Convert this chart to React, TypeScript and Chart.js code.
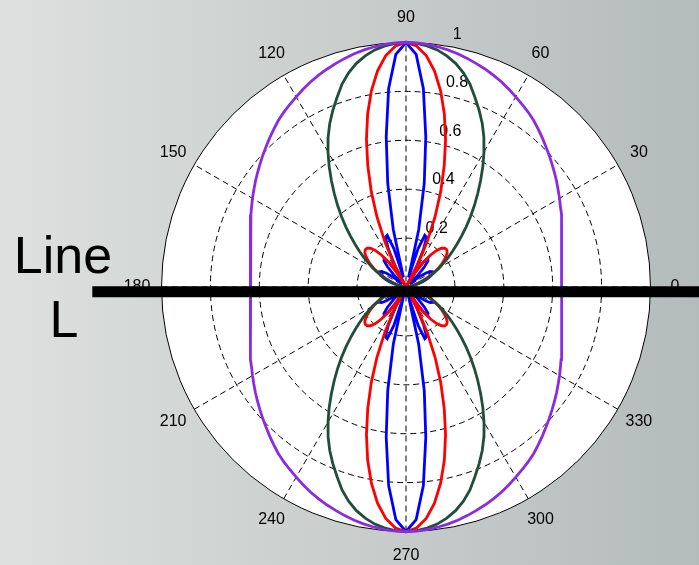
import React, { useEffect, useRef } from 'react';
import { Chart, registerables } from 'chart.js';

Chart.register(...registerables);

// Pattern read in one quadrant (degrees from the 0° axis); the picture is symmetric about both axes.
const angles = [0, 2.5, 5, 7.5, 10, 12.5, 15, 17.5, 20, 22.5, 25, 27.5, 30, 32.5, 35, 37.5, 40, 42.5, 45, 47.5, 50, 52.5, 55, 57.5, 60, 62.5, 65, 67.5, 70, 72.5, 75, 77.5, 80, 82.5, 85, 87.5, 90];
const purpleR = [0.638, 0.638, 0.64, 0.643, 0.647, 0.652, 0.658, 0.666, 0.676, 0.688, 0.7, 0.712, 0.725, 0.738, 0.752, 0.766, 0.78, 0.795, 0.81, 0.826, 0.842, 0.858, 0.872, 0.885, 0.898, 0.912, 0.925, 0.937, 0.948, 0.958, 0.968, 0.977, 0.985, 0.991, 0.996, 0.999, 1];
const greenR = [0, 0.001, 0.004, 0.01, 0.017, 0.027, 0.04, 0.055, 0.072, 0.092, 0.113, 0.135, 0.158, 0.183, 0.21, 0.24, 0.272, 0.308, 0.348, 0.39, 0.435, 0.482, 0.532, 0.585, 0.638, 0.69, 0.738, 0.782, 0.825, 0.87, 0.907, 0.937, 0.96, 0.978, 0.99, 0.997, 1];
const redR = [0, 0.001, 0.004, 0.01, 0.017, 0.026, 0.038, 0.052, 0.069, 0.088, 0.107, 0.13, 0.152, 0.172, 0.19, 0.207, 0.22, 0.226, 0.225, 0.215, 0.195, 0.165, 0.125, 0.075, 0, 0.11, 0.205, 0.31, 0.415, 0.52, 0.625, 0.725, 0.815, 0.892, 0.95, 0.987, 1];
const blueR = [0, 0.002, 0.006, 0.014, 0.024, 0.037, 0.052, 0.069, 0.086, 0.102, 0.115, 0.123, 0.125, 0.118, 0.1, 0.07, 0.03, 0.02, 0.07, 0.112, 0.14, 0.147, 0.125, 0.075, 0, 0.09, 0.17, 0.22, 0.225, 0.165, 0.04, 0.24, 0.43, 0.62, 0.815, 0.952, 1];

const angleTicks = [0, 30, 60, 90, 120, 150, 180, 210, 240, 270, 300, 330];
const radialTicks = [0.2, 0.4, 0.6, 0.8, 1];
const lineLabel = ['Line', 'L'];
const lineLX = [-1.283, 1.3];
const lineLY = -0.019;

const rad = (d: number) => (d * Math.PI) / 180;

function fullCurve(a: number[], r: number[]) {
  const pol: [number, number][] = [];
  const n = a.length;
  for (let i = 0; i < n; i++) pol.push([a[i], r[i]]);
  for (let i = n - 2; i >= 0; i--) pol.push([180 - a[i], r[i]]);
  for (let i = 1; i < n; i++) pol.push([180 + a[i], r[i]]);
  for (let i = n - 2; i >= 0; i--) pol.push([360 - a[i], r[i]]);
  return pol.map(([t, v]) => ({ x: v * Math.cos(rad(t)), y: v * Math.sin(rad(t)) }));
}

const FONT = '"Liberation Sans", Arial, Helvetica, sans-serif';

const polarGrid = {
  id: 'polarGrid',
  beforeDatasetsDraw(chart: any) {
    const { ctx, scales } = chart;
    const sx = scales.x;
    const sy = scales.y;
    const cx = sx.getPixelForValue(0);
    const cy = sy.getPixelForValue(0);
    const R = sx.getPixelForValue(1) - cx;
    ctx.save();
    ctx.beginPath();
    ctx.arc(cx, cy, R, 0, Math.PI * 2);
    ctx.fillStyle = '#ffffff';
    ctx.fill();

    ctx.strokeStyle = '#000000';
    ctx.lineWidth = 1;
    ctx.setLineDash([6, 4]);
    radialTicks.forEach((t) => {
      if (t >= 1) return;
      ctx.beginPath();
      ctx.arc(cx, cy, t * R, 0, Math.PI * 2);
      ctx.stroke();
    });
    angleTicks.forEach((a) => {
      if (a >= 180) return;
      const dx = Math.cos(rad(a)) * R;
      const dy = Math.sin(rad(a)) * R;
      ctx.beginPath();
      ctx.moveTo(cx - dx, cy + dy);
      ctx.lineTo(cx + dx, cy - dy);
      ctx.stroke();
    });
    ctx.setLineDash([]);
    ctx.beginPath();
    ctx.arc(cx, cy, R, 0, Math.PI * 2);
    ctx.stroke();

    ctx.fillStyle = '#000000';
    ctx.font = `16px ${FONT}`;
    ctx.textAlign = 'center';
    ctx.textBaseline = 'middle';
    angleTicks.forEach((a) => {
      ctx.fillText(String(a), cx + 1.1 * R * Math.cos(rad(a)), cy - 1.1 * R * Math.sin(rad(a)));
    });
    ctx.textAlign = 'left';
    ctx.textBaseline = 'bottom';
    radialTicks.forEach((t) => {
      const rr = (t + 0.01) * R;
      ctx.fillText('  ' + String(t), cx + rr * Math.cos(rad(82)) + 3.5, cy - rr * Math.sin(rad(82)));
    });
    ctx.restore();
  },
  afterDraw(chart: any) {
    const { ctx } = chart;
    ctx.save();
    ctx.fillStyle = '#000000';
    ctx.font = `52px ${FONT}`;
    ctx.textAlign = 'center';
    ctx.textBaseline = 'alphabetic';
    ctx.fillText(lineLabel[0], 63, 273);
    ctx.fillText(lineLabel[1], 64, 337);
    ctx.restore();
  },
};

export default function App() {
  const ref = useRef<HTMLCanvasElement | null>(null);
  useEffect(() => {
    if (!ref.current) return;
    const R = 244.5;
    const cxp = 406;
    const cyp = 287;
    const W = 699;
    const H = 565;
    const common = { showLine: true, pointRadius: 0, borderWidth: 2.8, tension: 0, fill: false };
    const chart = new Chart(ref.current, {
      type: 'scatter',
      data: {
        datasets: [
          {
            label: 'Line L',
            data: [{ x: lineLX[0], y: lineLY }, { x: lineLX[1], y: lineLY }],
            showLine: true,
            pointRadius: 0,
            borderWidth: 11,
            borderColor: '#000000',
            order: 0,
          },
          { ...common, label: 'purple', data: fullCurve(angles, purpleR), borderColor: '#8a2be2', order: 1 },
          { ...common, label: 'green', data: fullCurve(angles, greenR), borderColor: '#1f4e3a', order: 2 },
          { ...common, label: 'red', data: fullCurve(angles, redR), borderColor: '#ff0000', order: 3 },
          { ...common, label: 'blue', data: fullCurve(angles, blueR), borderColor: '#0000ff', order: 4 },
        ],
      },
      options: {
        animation: false,
        responsive: false,
        maintainAspectRatio: false,
        devicePixelRatio: 1,
        events: [],
        layout: { padding: 0 },
        plugins: { legend: { display: false }, tooltip: { enabled: false } },
        scales: {
          x: { type: 'linear', display: false, min: -cxp / R, max: (W - cxp) / R },
          y: { type: 'linear', display: false, min: -(H - cyp) / R, max: cyp / R },
        },
      },
      plugins: [polarGrid],
    } as any);
    return () => chart.destroy();
  }, []);

  return (
    <div
      style={{
        position: 'fixed',
        left: 0,
        top: 0,
        width: 699,
        height: 565,
        background: 'linear-gradient(to right, #dde0de, #b4bcbb)',
      }}
    >
      <canvas ref={ref} width={699} height={565} style={{ display: 'block', width: 699, height: 565 }} />
    </div>
  );
}
